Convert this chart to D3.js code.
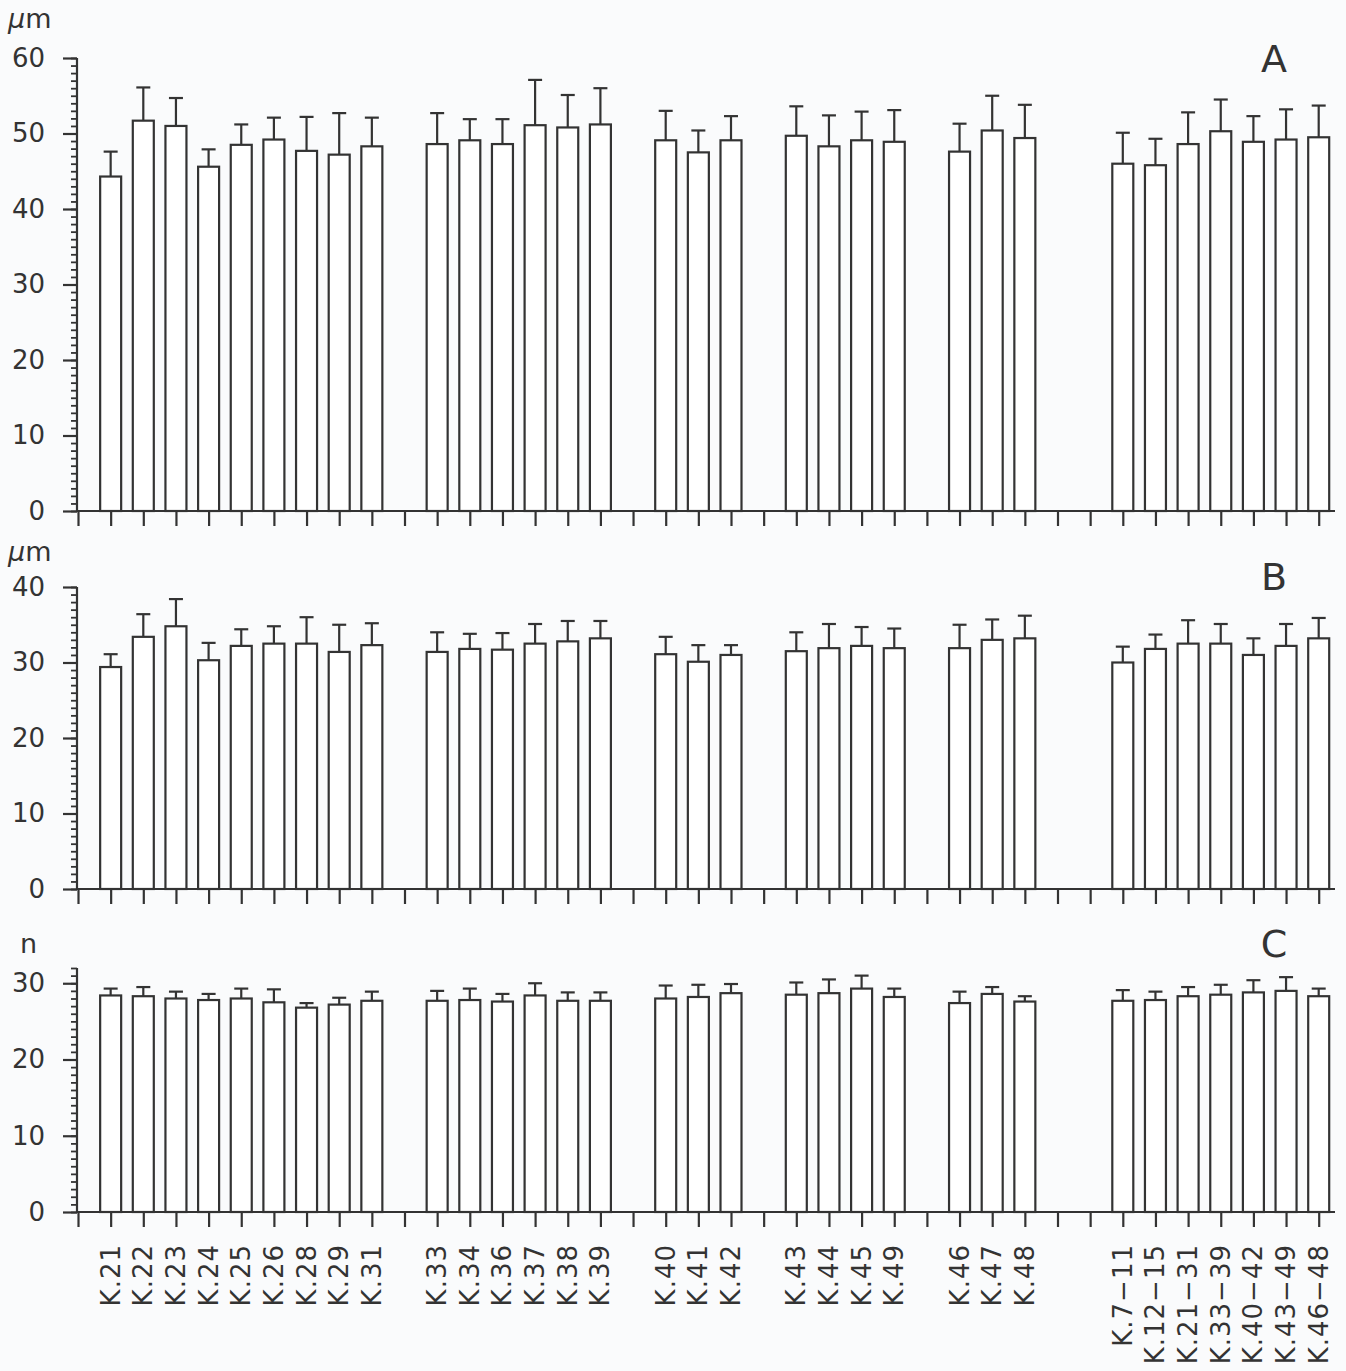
<!DOCTYPE html>
<html>
<head>
<meta charset="utf-8">
<script src="https://cdn.jsdelivr.net/npm/d3@7/dist/d3.min.js"></script>
<style>
  html, body { margin: 0; padding: 0; background: #fafbfc; }
  svg { display: block; }
  text { font-family: "DejaVu Sans", "Liberation Sans", sans-serif; fill: #333333; }
</style>
</head>
<body>
<svg id="chart" width="1346" height="1371"></svg>
<script>
// Sample sites in plotting order; null marks an empty slot between groups
const slotLayout = [
  null,
  "K.21", "K.22", "K.23", "K.24", "K.25", "K.26", "K.28", "K.29", "K.31",
  null,
  "K.33", "K.34", "K.36", "K.37", "K.38", "K.39",
  null,
  "K.40", "K.41", "K.42",
  null,
  "K.43", "K.44", "K.45", "K.49",
  null,
  "K.46", "K.47", "K.48",
  null, null,
  "K.7−11", "K.12−15", "K.21−31", "K.33−39", "K.40−42", "K.43−49", "K.46−48"
];

const categories = slotLayout.filter(d => d !== null);

// A: length (µm), mean and SD
const meanA = [44.3, 51.7, 51.0, 45.6, 48.5, 49.2, 47.7, 47.2, 48.3,
               48.6, 49.1, 48.6, 51.1, 50.8, 51.2,
               49.1, 47.5, 49.1,
               49.7, 48.3, 49.1, 48.9,
               47.6, 50.4, 49.4,
               46.0, 45.8, 48.6, 50.3, 48.9, 49.2, 49.5];
const sdA   = [3.3, 4.4, 3.7, 2.3, 2.7, 2.9, 4.5, 5.5, 3.8,
               4.1, 2.8, 3.3, 6.0, 4.3, 4.8,
               3.9, 2.9, 3.2,
               3.9, 4.1, 3.8, 4.2,
               3.7, 4.6, 4.4,
               4.1, 3.5, 4.2, 4.2, 3.4, 4.0, 4.2];

// B: width (µm), mean and SD
const meanB = [29.4, 33.4, 34.8, 30.3, 32.2, 32.5, 32.5, 31.4, 32.3,
               31.4, 31.8, 31.7, 32.5, 32.8, 33.2,
               31.1, 30.1, 31.0,
               31.5, 31.9, 32.2, 31.9,
               31.9, 33.0, 33.2,
               30.0, 31.8, 32.5, 32.5, 31.0, 32.2, 33.2];
const sdB   = [1.7, 3.0, 3.6, 2.3, 2.2, 2.3, 3.5, 3.6, 2.9,
               2.6, 2.0, 2.2, 2.6, 2.7, 2.3,
               2.3, 2.2, 1.3,
               2.5, 3.2, 2.5, 2.6,
               3.1, 2.7, 3.0,
               2.1, 1.9, 3.1, 2.6, 2.2, 2.9, 2.7];

// C: count (n), mean and SD
const meanC = [28.4, 28.3, 28.0, 27.8, 28.0, 27.5, 26.8, 27.2, 27.7,
               27.7, 27.8, 27.6, 28.4, 27.7, 27.7,
               28.0, 28.2, 28.7,
               28.5, 28.7, 29.3, 28.2,
               27.4, 28.6, 27.6,
               27.7, 27.8, 28.3, 28.5, 28.8, 29.0, 28.3];
const sdC   = [0.9, 1.2, 0.9, 0.8, 1.3, 1.7, 0.6, 0.9, 1.2,
               1.3, 1.5, 1.0, 1.6, 1.1, 1.1,
               1.7, 1.6, 1.2,
               1.6, 1.8, 1.7, 1.1,
               1.5, 0.9, 0.7,
               1.4, 1.1, 1.2, 1.3, 1.6, 1.8, 1.0];

const panelLetters = ["A", "B", "C"];
const unitLabels = [["µ", "m"], ["µ", "m"], [null, "n"]];
const yMax = [60, 40, 32];
const majorTicks = [[0, 10, 20, 30, 40, 50, 60], [0, 10, 20, 30, 40], [0, 10, 20, 30]];

const INK = "#333333";
const LW = 2.2;
const svg = d3.select("#chart");

const slotKeys = slotLayout.map((d, i) => d === null ? "gap" + i : d);
const x = d3.scalePoint().domain(slotKeys).range([78, 1318.7]);

const axisX = 77;
const axisRight = 1335;
const barW = 21;
const capW = 14;

const panels = [
  { mean: meanA, sd: sdA, top: 58,  bottom: 511,  unitY: 28,  letterY: 72 },
  { mean: meanB, sd: sdB, top: 587, bottom: 889,  unitY: 561, letterY: 590 },
  { mean: meanC, sd: sdC, top: 968, bottom: 1212, unitY: 953, letterY: 957 }
];

panels.forEach((p, pi) => {
  const y = d3.scaleLinear().domain([0, yMax[pi]]).range([p.bottom, p.top]);
  const g = svg.append("g");

  // minor ticks every unit
  g.append("g")
    .attr("transform", `translate(${axisX},0)`)
    .call(d3.axisLeft(y).tickValues(d3.range(0, yMax[pi] + 1)).tickSize(6).tickSizeOuter(0).tickFormat(""))
    .call(s => s.select(".domain").remove())
    .call(s => s.selectAll("line").attr("stroke", INK).attr("stroke-width", 1.8));

  // major ticks with labels
  g.append("g")
    .attr("transform", `translate(${axisX},0)`)
    .call(d3.axisLeft(y).tickValues(majorTicks[pi]).tickSize(14).tickSizeOuter(0).tickPadding(18))
    .call(s => s.select(".domain").remove())
    .call(s => s.selectAll("line").attr("stroke", INK).attr("stroke-width", LW))
    .call(s => s.selectAll("text")
      .attr("font-family", "DejaVu Sans, sans-serif")
      .attr("font-size", 26)
      .attr("fill", INK));

  // vertical axis line
  g.append("line")
    .attr("x1", axisX).attr("x2", axisX)
    .attr("y1", y(yMax[pi])).attr("y2", y(0))
    .attr("stroke", INK).attr("stroke-width", LW);

  // horizontal axis with a tick under every slot
  g.append("g")
    .attr("transform", `translate(0,${y(0)})`)
    .call(d3.axisBottom(x).tickSize(15).tickSizeOuter(0).tickFormat(""))
    .call(s => s.select(".domain").remove())
    .call(s => s.selectAll("line").attr("stroke", INK).attr("stroke-width", LW));

  g.append("line")
    .attr("x1", axisX).attr("x2", axisRight)
    .attr("y1", y(0)).attr("y2", y(0))
    .attr("stroke", INK).attr("stroke-width", LW);

  const rows = categories.map((c, i) => ({ c, m: p.mean[i], s: p.sd[i] }));

  // error bars (upper SD only)
  const eb = g.append("g").selectAll("g").data(rows).join("g");
  eb.append("line")
    .attr("x1", d => x(d.c)).attr("x2", d => x(d.c))
    .attr("y1", d => y(d.m)).attr("y2", d => y(d.m + d.s))
    .attr("stroke", INK).attr("stroke-width", LW);
  eb.append("line")
    .attr("x1", d => x(d.c) - capW / 2).attr("x2", d => x(d.c) + capW / 2)
    .attr("y1", d => y(d.m + d.s)).attr("y2", d => y(d.m + d.s))
    .attr("stroke", INK).attr("stroke-width", LW);

  // bars
  g.append("g").selectAll("rect").data(rows).join("rect")
    .attr("x", d => x(d.c) - barW / 2)
    .attr("width", barW)
    .attr("y", d => y(d.m))
    .attr("height", d => y(0) - y(d.m))
    .attr("fill", "#ffffff")
    .attr("stroke", INK)
    .attr("stroke-width", LW);

  // unit label
  const u = g.append("text")
    .attr("x", unitLabels[pi][0] ? 8 : 20)
    .attr("y", p.unitY)
    .attr("font-size", 27);
  if (unitLabels[pi][0]) {
    u.append("tspan").attr("font-style", "italic").text(unitLabels[pi][0]);
  }
  u.append("tspan").text(unitLabels[pi][1]);

  // panel letter
  g.append("text")
    .attr("x", 1274)
    .attr("y", p.letterY)
    .attr("text-anchor", "middle")
    .attr("font-size", 38)
    .text(panelLetters[pi]);
});

// category labels under the bottom panel
svg.append("g").selectAll("text").data(categories).join("text")
  .attr("transform", d => `translate(${x(d)},1244) rotate(-90)`)
  .attr("text-anchor", "end")
  .attr("dominant-baseline", "central")
  .attr("font-size", 26)
  .attr("letter-spacing", 1)
  .text(d => d);
</script>
</body>
</html>
